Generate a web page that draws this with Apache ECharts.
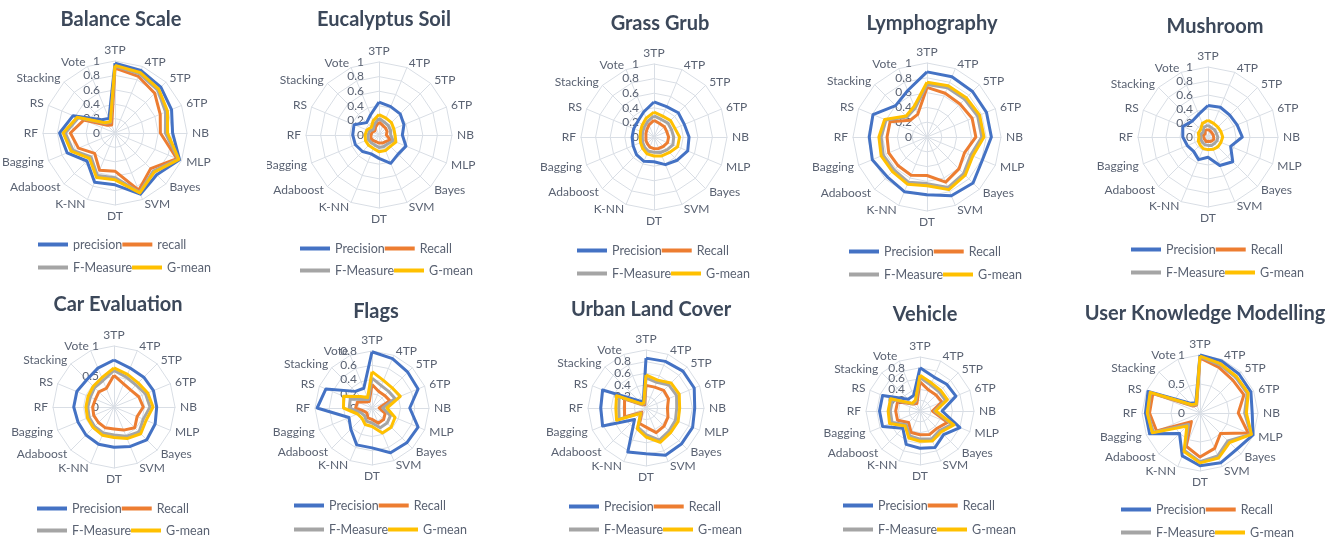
<!DOCTYPE html>
<html>
<head>
<meta charset="utf-8">
<script src="https://cdn.jsdelivr.net/npm/echarts@6/dist/echarts.min.js"></script>
<style>
  body { margin: 0; background: #fff; }
  #wrap { position: relative; width: 1337px; height: 538px; }
  .chart { position: absolute; }
</style>
</head>
<body>
<div id="wrap">
  <div class="chart" id="c1" style="left:0px;top:0px;width:267px;height:280px"></div>
  <div class="chart" id="c2" style="left:267px;top:0px;width:267px;height:280px"></div>
  <div class="chart" id="c3" style="left:534px;top:0px;width:267px;height:280px"></div>
  <div class="chart" id="c4" style="left:801px;top:0px;width:267px;height:280px"></div>
  <div class="chart" id="c5" style="left:1068px;top:0px;width:269px;height:280px"></div>
  <div class="chart" id="c6" style="left:0px;top:280px;width:267px;height:258px"></div>
  <div class="chart" id="c7" style="left:267px;top:280px;width:267px;height:258px"></div>
  <div class="chart" id="c8" style="left:534px;top:280px;width:267px;height:258px"></div>
  <div class="chart" id="c9" style="left:801px;top:280px;width:267px;height:258px"></div>
  <div class="chart" id="c10" style="left:1068px;top:280px;width:269px;height:258px"></div>
</div>
<script>
// indicator order, clockwise from the top
const indicators = ['3TP', '4TP', '5TP', '6TP', 'NB', 'MLP', 'Bayes', 'SVM', 'DT', 'K-NN', 'Adaboost', 'Bagging', 'RF', 'RS', 'Stacking', 'Vote'];
const seriesNames = ['Precision', 'Recall', 'F-Measure', 'G-mean'];
const seriesNamesLower = ['precision', 'recall', 'F-Measure', 'G-mean'];

// Balance Scale
const balancePrecision = [0.97, 0.94, 0.90, 0.85, 0.80, 0.97, 0.82, 0.92, 0.72, 0.74, 0.55, 0.72, 0.77, 0.63, 0.26, 0.22];
const balanceRecall    = [0.90, 0.85, 0.78, 0.68, 0.63, 0.93, 0.70, 0.86, 0.53, 0.56, 0.40, 0.55, 0.62, 0.47, 0.15, 0.12];
const balanceFMeasure  = [0.93, 0.89, 0.84, 0.76, 0.70, 0.95, 0.75, 0.89, 0.62, 0.64, 0.47, 0.63, 0.69, 0.55, 0.19, 0.16];
const balanceGMean     = [0.94, 0.91, 0.86, 0.79, 0.73, 0.96, 0.77, 0.90, 0.65, 0.67, 0.50, 0.66, 0.72, 0.57, 0.20, 0.17];

// Eucalyptus Soil
const eucaPrecision = [0.45, 0.42, 0.41, 0.37, 0.32, 0.40, 0.37, 0.42, 0.32, 0.28, 0.32, 0.35, 0.36, 0.37, 0.24, 0.30];
const eucaRecall    = [0.18, 0.14, 0.13, 0.12, 0.10, 0.17, 0.13, 0.12, 0.11, 0.10, 0.11, 0.12, 0.11, 0.10, 0.08, 0.12];
const eucaFMeasure  = [0.23, 0.19, 0.18, 0.17, 0.16, 0.21, 0.17, 0.17, 0.17, 0.15, 0.15, 0.16, 0.15, 0.14, 0.11, 0.16];
const eucaGMean     = [0.28, 0.25, 0.24, 0.22, 0.22, 0.25, 0.22, 0.23, 0.23, 0.20, 0.20, 0.20, 0.19, 0.18, 0.15, 0.21];

// Grass Grub
const grassPrecision = [0.48, 0.45, 0.47, 0.45, 0.48, 0.50, 0.45, 0.41, 0.34, 0.36, 0.34, 0.31, 0.30, 0.30, 0.31, 0.37];
const grassRecall    = [0.23, 0.20, 0.20, 0.19, 0.20, 0.20, 0.18, 0.17, 0.16, 0.15, 0.13, 0.12, 0.11, 0.12, 0.14, 0.18];
const grassFMeasure  = [0.29, 0.26, 0.27, 0.26, 0.27, 0.28, 0.25, 0.23, 0.21, 0.21, 0.19, 0.17, 0.16, 0.17, 0.19, 0.23];
const grassGMean     = [0.34, 0.31, 0.32, 0.31, 0.35, 0.35, 0.30, 0.28, 0.26, 0.25, 0.22, 0.20, 0.19, 0.20, 0.23, 0.28];

// Lymphography
const lymphPrecision = [0.88, 0.88, 0.87, 0.87, 0.87, 0.81, 0.88, 0.86, 0.78, 0.80, 0.76, 0.80, 0.78, 0.79, 0.60, 0.68];
const lymphRecall    = [0.67, 0.64, 0.63, 0.66, 0.66, 0.55, 0.61, 0.66, 0.52, 0.56, 0.55, 0.56, 0.54, 0.54, 0.32, 0.33];
const lymphFMeasure  = [0.71, 0.72, 0.72, 0.74, 0.74, 0.64, 0.70, 0.74, 0.63, 0.66, 0.63, 0.64, 0.62, 0.60, 0.38, 0.42];
const lymphGMean     = [0.74, 0.75, 0.75, 0.77, 0.77, 0.67, 0.73, 0.77, 0.66, 0.69, 0.66, 0.67, 0.65, 0.62, 0.40, 0.45];

// Mushroom
const mushPrecision = [0.45, 0.46, 0.44, 0.45, 0.49, 0.35, 0.50, 0.44, 0.29, 0.35, 0.29, 0.32, 0.36, 0.39, 0.32, 0.35];
const mushRecall    = [0.11, 0.09, 0.08, 0.08, 0.08, 0.09, 0.08, 0.07, 0.06, 0.07, 0.06, 0.06, 0.06, 0.07, 0.06, 0.10];
const mushFMeasure  = [0.17, 0.14, 0.14, 0.13, 0.14, 0.14, 0.13, 0.13, 0.12, 0.12, 0.11, 0.11, 0.10, 0.11, 0.10, 0.15];
const mushGMean     = [0.24, 0.21, 0.20, 0.20, 0.21, 0.20, 0.20, 0.19, 0.18, 0.18, 0.16, 0.15, 0.13, 0.15, 0.15, 0.21];

// Car Evaluation
const carPrecision = [0.77, 0.69, 0.69, 0.70, 0.70, 0.73, 0.76, 0.70, 0.66, 0.66, 0.65, 0.64, 0.66, 0.66, 0.63, 0.69];
const carRecall    = [0.52, 0.41, 0.39, 0.44, 0.48, 0.41, 0.48, 0.41, 0.36, 0.37, 0.36, 0.36, 0.35, 0.33, 0.35, 0.33];
const carFMeasure  = [0.60, 0.53, 0.51, 0.56, 0.59, 0.52, 0.58, 0.52, 0.46, 0.46, 0.45, 0.44, 0.43, 0.42, 0.45, 0.47];
const carGMean     = [0.64, 0.58, 0.56, 0.60, 0.64, 0.57, 0.62, 0.56, 0.50, 0.50, 0.48, 0.47, 0.46, 0.46, 0.48, 0.52];

// Flags
const flagsPrecision = [0.79, 0.75, 0.71, 0.70, 0.53, 0.70, 0.69, 0.68, 0.56, 0.56, 0.42, 0.35, 0.77, 0.70, 0.33, 0.30];
const flagsRecall    = [0.33, 0.25, 0.25, 0.27, 0.10, 0.20, 0.23, 0.23, 0.16, 0.15, 0.10, 0.12, 0.23, 0.22, 0.12, 0.10];
const flagsFMeasure  = [0.42, 0.34, 0.33, 0.35, 0.15, 0.28, 0.30, 0.30, 0.21, 0.20, 0.15, 0.17, 0.32, 0.33, 0.17, 0.13];
const flagsGMean     = [0.51, 0.42, 0.40, 0.43, 0.21, 0.35, 0.38, 0.38, 0.26, 0.25, 0.20, 0.22, 0.40, 0.43, 0.23, 0.16];

// Urban Land Cover
const urbanPrecision = [0.86, 0.87, 0.90, 0.90, 0.84, 0.87, 0.87, 0.88, 0.79, 0.82, 0.28, 0.81, 0.78, 0.81, 0.18, 0.12];
const urbanRecall    = [0.39, 0.39, 0.43, 0.42, 0.37, 0.41, 0.44, 0.46, 0.33, 0.29, 0.10, 0.40, 0.37, 0.40, 0.08, 0.06];
const urbanFMeasure  = [0.52, 0.48, 0.56, 0.57, 0.53, 0.55, 0.56, 0.60, 0.46, 0.36, 0.12, 0.50, 0.47, 0.50, 0.09, 0.08];
const urbanGMean     = [0.57, 0.52, 0.61, 0.62, 0.58, 0.60, 0.60, 0.64, 0.50, 0.39, 0.13, 0.55, 0.52, 0.55, 0.10, 0.10];

// Vehicle
const vehiclePrecision = [0.80, 0.68, 0.70, 0.72, 0.41, 0.80, 0.62, 0.73, 0.69, 0.67, 0.45, 0.75, 0.75, 0.75, 0.31, 0.31];
const vehicleRecall    = [0.54, 0.42, 0.42, 0.44, 0.23, 0.55, 0.45, 0.47, 0.44, 0.43, 0.30, 0.45, 0.45, 0.45, 0.18, 0.15];
const vehicleFMeasure  = [0.62, 0.52, 0.50, 0.51, 0.27, 0.64, 0.51, 0.56, 0.52, 0.50, 0.36, 0.56, 0.55, 0.55, 0.19, 0.20];
const vehicleGMean     = [0.66, 0.56, 0.54, 0.55, 0.29, 0.68, 0.55, 0.60, 0.56, 0.54, 0.39, 0.61, 0.59, 0.59, 0.20, 0.22];

// User Knowledge Modelling
const userPrecision = [1.00, 0.97, 0.95, 0.95, 0.90, 0.99, 0.89, 0.93, 0.91, 0.80, 0.50, 0.94, 0.94, 0.97, 0.24, 0.19];
const userRecall    = [0.95, 0.85, 0.80, 0.82, 0.66, 0.90, 0.50, 0.66, 0.76, 0.62, 0.21, 0.81, 0.87, 0.88, 0.17, 0.15];
const userFMeasure  = [0.97, 0.90, 0.87, 0.88, 0.77, 0.95, 0.68, 0.80, 0.84, 0.70, 0.28, 0.87, 0.90, 0.92, 0.19, 0.16];
const userGMean     = [0.98, 0.92, 0.89, 0.90, 0.80, 0.96, 0.72, 0.84, 0.86, 0.72, 0.32, 0.89, 0.91, 0.93, 0.20, 0.17];

const colors = ['#4472C4', '#ED7D31', '#A5A5A5', '#FFC000'];
const textColor = '#5a6272';
const font = 'Lato, "Open Sans", sans-serif';

// echarts radar runs counter-clockwise, so keep the first item and flip the rest
function clockwise(arr) {
  return [arr[0]].concat(arr.slice(1).reverse());
}

function drawRadar(id, c) {
  let myChart = echarts.init(document.getElementById(id));
  let names = c.names || seriesNames;
  let ind = clockwise(indicators).map(function (n, i) {
    let o = { name: n, min: 0, max: c.max };
    // tick labels only on the 3TP axis
    if (i === 0) {
      o.axisLabel = { show: true };
    }
    return o;
  });
  let series = c.values.map(function (vals, i) {
    return {
      type: 'radar',
      name: names[i],
      symbol: 'none',
      z: 2 + i,
      lineStyle: { width: 3, color: colors[i] },
      itemStyle: { color: colors[i] },
      data: [{ value: clockwise(vals), name: names[i] }]
    };
  });
  let legendCommon = {
    left: c.legendX,
    icon: 'rect',
    itemWidth: 30,
    itemHeight: 4,
    itemGap: 0,
    textStyle: { color: textColor, fontSize: 12.5, fontFamily: font, width: 52 }
  };
  myChart.setOption({
    animation: false,
    color: colors,
    title: {
      text: c.title,
      left: c.titleX,
      top: c.titleY - 13,
      textAlign: 'center',
      textStyle: { color: '#3c485a', fontSize: 20, fontWeight: 'bold', fontFamily: font }
    },
    legend: [
      Object.assign({}, legendCommon, { top: c.legendY[0] - 10, data: [names[0], names[1]] }),
      Object.assign({}, legendCommon, { top: c.legendY[1] - 10, data: [names[2], names[3]] })
    ],
    radar: {
      indicator: ind,
      center: c.center,
      radius: c.radius,
      startAngle: 90,
      splitNumber: Math.round(c.max / c.interval),
      shape: 'polygon',
      nameGap: 5,
      axisName: { color: textColor, fontSize: 12, fontFamily: font },
      axisLine: { lineStyle: { color: '#d9dee5', width: 1 } },
      splitLine: { lineStyle: { color: '#d9dee5', width: 1 } },
      splitArea: { show: false },
      axisTick: { show: false },
      axisLabel: {
        show: false,
        color: textColor,
        fontSize: 12,
        fontFamily: font,
        margin: 15,
        formatter: function (v) { return String(Math.round(v * 10) / 10); }
      }
    },
    series: series
  });
}

drawRadar('c1', { title: 'Balance Scale', titleX: 116, titleY: 18, center: [115, 133], radius: 72, max: 1, interval: 0.2,
  legendX: 33, legendY: [243, 266], names: seriesNamesLower,
  values: [balancePrecision, balanceRecall, balanceFMeasure, balanceGMean] });
drawRadar('c2', { title: 'Eucalyptus Soil', titleX: 112, titleY: 18, center: [112, 135], radius: 73, max: 1, interval: 0.2,
  legendX: 28, legendY: [247, 269],
  values: [eucaPrecision, eucaRecall, eucaFMeasure, eucaGMean] });
drawRadar('c3', { title: 'Grass Grub', titleX: 121, titleY: 22, center: [120, 137], radius: 73, max: 1, interval: 0.2,
  legendX: 38, legendY: [249, 272],
  values: [grassPrecision, grassRecall, grassFMeasure, grassGMean] });
drawRadar('c4', { title: 'Lymphography', titleX: 126, titleY: 22, center: [126, 137], radius: 74, max: 1, interval: 0.2,
  legendX: 43, legendY: [250, 273],
  values: [lymphPrecision, lymphRecall, lymphFMeasure, lymphGMean] });
drawRadar('c5', { title: 'Mushroom', titleX: 142, titleY: 25, center: [140, 137], radius: 70, max: 1, interval: 0.2,
  legendX: 58, legendY: [248, 271],
  values: [mushPrecision, mushRecall, mushFMeasure, mushGMean] });
drawRadar('c6', { title: 'Car Evaluation', titleX: 113, titleY: 23, center: [114, 127], radius: 61, max: 1, interval: 0.5,
  legendX: 32, legendY: [227, 249],
  values: [carPrecision, carRecall, carFMeasure, carGMean] });
drawRadar('c7', { title: 'Flags', titleX: 104, titleY: 30, center: [105, 128], radius: 57, max: 0.8, interval: 0.2,
  legendX: 22, legendY: [224, 248],
  values: [flagsPrecision, flagsRecall, flagsFMeasure, flagsGMean] });
drawRadar('c8', { title: 'Urban Land Cover', titleX: 112, titleY: 28, center: [112, 128], radius: 58, max: 1, interval: 0.2,
  legendX: 30, legendY: [225, 248],
  values: [urbanPrecision, urbanRecall, urbanFMeasure, urbanGMean] });
drawRadar('c9', { title: 'Vehicle', titleX: 119, titleY: 33, center: [119, 131], radius: 54, max: 1, interval: 0.2,
  legendX: 37, legendY: [224, 248],
  values: [vehiclePrecision, vehicleRecall, vehicleFMeasure, vehicleGMean] });
drawRadar('c10', { title: 'User Knowledge Modelling', titleX: 132, titleY: 32, center: [132, 133], radius: 58, max: 1, interval: 0.5,
  legendX: 48, legendY: [228, 251],
  values: [userPrecision, userRecall, userFMeasure, userGMean] });
</script>
</body>
</html>
